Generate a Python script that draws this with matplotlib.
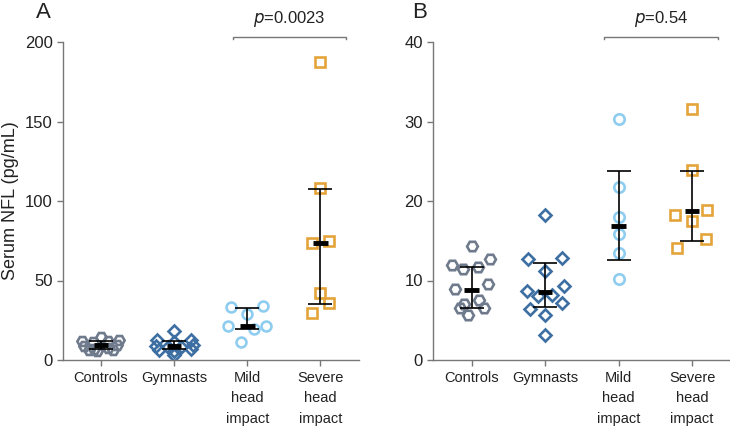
import matplotlib
matplotlib.use("Agg")
import matplotlib.pyplot as plt
import matplotlib.transforms as mtransforms

plt.rcParams['font.family'] = ['Liberation Sans', 'DejaVu Sans']

categories = ["Controls", "Gymnasts", "Mild\nhead\nimpact", "Severe\nhead\nimpact"]

# ---- Panel A values (pg/mL) ----
a_controls = [14.3, 12.0, 11.5, 11.7, 12.7, 8.9, 9.5, 7.1, 7.6, 6.5, 6.5, 5.7]
a_gymnasts = [18.3, 12.7, 12.8, 11.2, 8.7, 9.3, 8.0, 8.2, 7.2, 6.4, 5.6, 3.1]
a_mild = [33.1, 34.0, 28.9, 21.6, 21.6, 19.3, 11.5]
a_severe = [187.4, 107.9, 73.7, 75.0, 41.9, 36.0, 29.7]
a_center = [9.2, 8.6, 21.3, 73.7]
a_low = [6.8, 6.7, 19.8, 35.4]
a_high = [11.8, 12.2, 32.8, 107.5]
a_yticks = [0, 50, 100, 150, 200]
a_p = "=0.0023"

# ---- Panel B values (pg/mL) ----
b_controls = [14.3, 12.0, 11.5, 11.7, 12.7, 8.9, 9.5, 7.1, 7.6, 6.5, 6.5, 5.7]
b_gymnasts = [18.3, 12.7, 12.8, 11.2, 8.7, 9.3, 8.0, 8.2, 7.2, 6.4, 5.6, 3.1]
b_mild = [30.3, 21.7, 18.0, 15.9, 13.4, 10.2]
b_severe = [31.6, 23.9, 18.3, 18.9, 17.5, 15.2, 14.1]
b_center = [8.8, 8.5, 16.9, 18.7]
b_low = [6.5, 6.7, 12.6, 15.0]
b_high = [11.7, 12.2, 23.8, 23.8]
b_yticks = [0, 10, 20, 30, 40]
b_p = "=0.54"

# ---- horizontal jitter (layout only) ----
jit_controls = [0.0, -0.26, -0.11, 0.09, 0.25, -0.23, 0.22, -0.10, 0.10, -0.16, 0.17, -0.05]
jit_gymnasts = [0.0, -0.23, 0.23, 0.0, -0.25, 0.26, -0.09, 0.09, 0.23, -0.21, 0.0, 0.0]
jit_a_mild = [-0.22, 0.22, 0.0, -0.26, 0.26, 0.09, -0.09]
jit_a_severe = [0.0, 0.0, -0.12, 0.12, 0.0, 0.12, -0.12]
jit_b_mild = [0, 0, 0, 0, 0, 0]
jit_b_severe = [0.0, 0.0, -0.23, 0.20, 0.0, 0.19, -0.20]

colors = ["#6f7b8c", "#3d6fa3", "#8fcdf0", "#e4a43a"]
markers = ["H", "D", "o", "s"]
msizes = [7.8, 6.2, 7.5, 7.2]

fig = plt.figure(figsize=(7.30, 4.28), dpi=100)
axA = fig.add_axes([63 / 730, 68 / 428, 295.5 / 730, 318 / 428])
axB = fig.add_axes([433.3 / 730, 68 / 428, 297 / 730, 318 / 428])


def draw(ax, groups, jitters, center, low, high, yticks, ymax, ptxt, msc):
    for i, (vals, jit) in enumerate(zip(groups, jitters)):
        xs = [i + j for j in jit]
        ax.plot(xs, vals, linestyle="none", marker=markers[i],
                markersize=msizes[i] * msc, markerfacecolor="none",
                markeredgecolor=colors[i], markeredgewidth=1.9, zorder=2)
    for i in range(4):
        ax.errorbar([i], [center[i]],
                    yerr=[[center[i] - low[i]], [high[i] - center[i]]],
                    fmt="none", ecolor="black", elinewidth=1.2,
                    capsize=8.5, capthick=1.2, zorder=3)
        ax.plot([i - 0.1, i + 0.1], [center[i], center[i]], color="black",
                lw=3.5, solid_capstyle="butt", zorder=4)
    ax.set_xlim(-0.52, 3.52)
    ax.set_ylim(0, ymax)
    ax.set_yticks(yticks)
    ax.set_xticks(range(4))
    ax.set_xticklabels(categories, fontsize=10.5, linespacing=1.58,
                       color="#222222")
    for lab in ax.get_yticklabels():
        lab.set_fontsize(12)
        lab.set_color("#222222")
    for s in ["top", "right"]:
        ax.spines[s].set_visible(False)
    for s in ["left", "bottom"]:
        ax.spines[s].set_color("#777777")
        ax.spines[s].set_linewidth(1.0)
    ax.tick_params(axis="both", colors="#777777", length=4, width=1.0,
                   labelcolor="#222222")
    ax.tick_params(axis="x", pad=4)
    trans = mtransforms.blended_transform_factory(ax.transData, ax.transAxes)
    x0, x1 = 1.8, 3.35
    yb = 1.016
    ax.plot([x0, x0, x1, x1], [yb - 0.008, yb, yb, yb - 0.008],
            color="#777777", lw=1.0, transform=trans, clip_on=False)
    ax.text((x0 + x1) / 2, yb + 0.025, r"$\it{p}$" + ptxt, transform=trans,
            ha="center", va="bottom", fontsize=12, color="#222222")


draw(axA, [a_controls, a_gymnasts, a_mild, a_severe],
     [jit_controls, jit_gymnasts, jit_a_mild, jit_a_severe],
     a_center, a_low, a_high, a_yticks, 200, a_p, 0.95)
draw(axB, [b_controls, b_gymnasts, b_mild, b_severe],
     [jit_controls, jit_gymnasts, jit_b_mild, jit_b_severe],
     b_center, b_low, b_high, b_yticks, 40, b_p, 1.0)

axA.set_ylabel("Serum NFL (pg/mL)", fontsize=13, color="#222222", labelpad=4)

fig.text(43 / 730, 1 - 13 / 428, "A", fontsize=16, ha="center", va="center",
         color="#222222")
fig.text(420 / 730, 1 - 13 / 428, "B", fontsize=16, ha="center", va="center",
         color="#222222")

fig.savefig("out.png", dpi=100)
